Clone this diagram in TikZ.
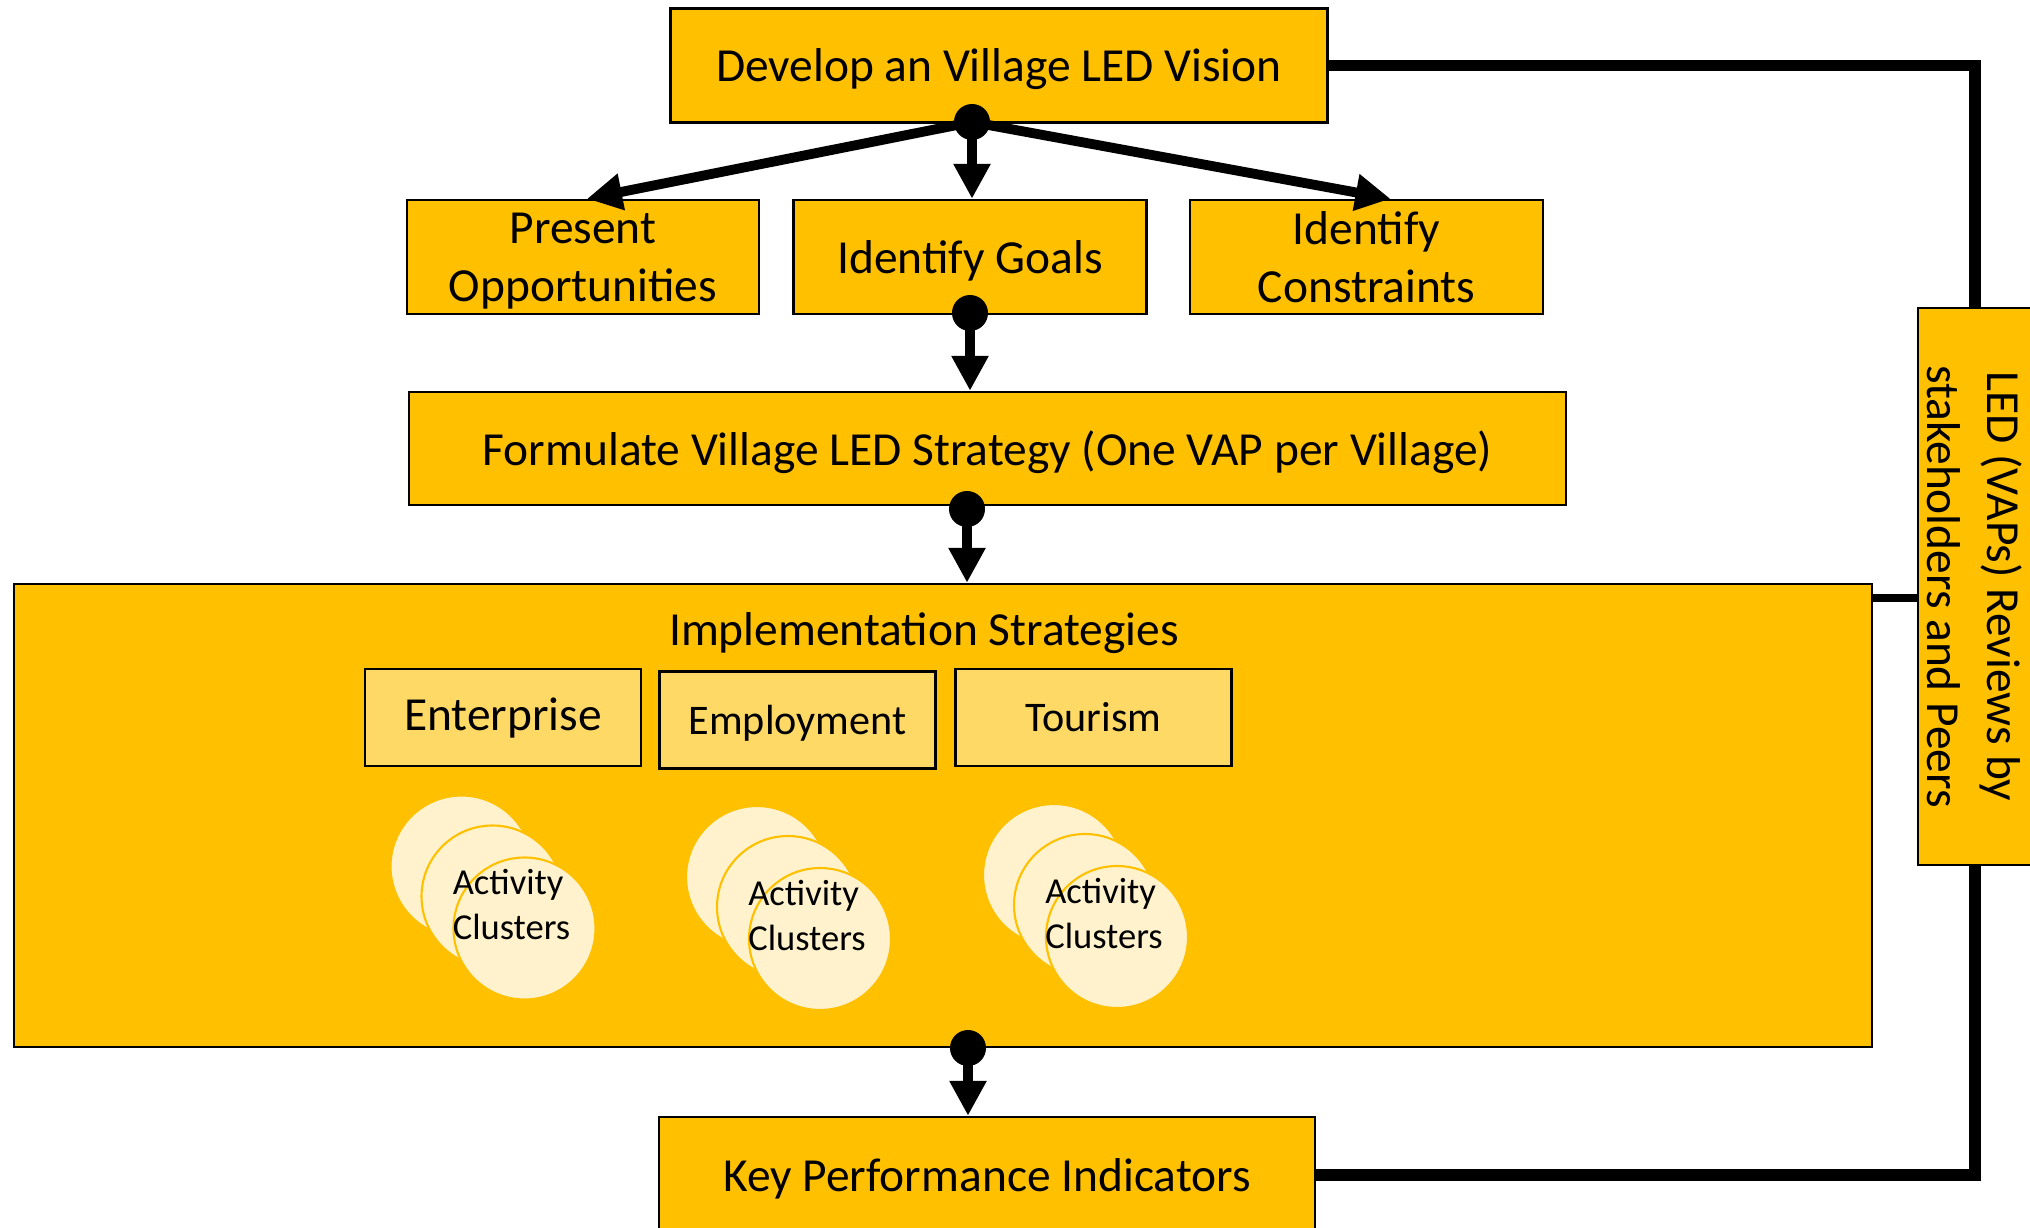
\documentclass[tikz,border=0pt]{standalone}
\usepackage{fontspec}
\setmainfont{Carlito}
\usepackage{tikz}
\usetikzlibrary{arrows.meta}

\definecolor{ledgold}{HTML}{FFC000}
\definecolor{ledlight}{HTML}{FFD966}
\definecolor{ledcream}{HTML}{FFF2CC}

\tikzset{
    mainbox/.style={draw, line width=0.7pt, fill=ledgold, inner sep=2pt, align=center, text depth=0pt, font=\fontsize{13.5}{16.5}\selectfont},
    subbox/.style={draw, line width=0.75pt, fill=ledlight, minimum width=2.76cm, minimum height=0.97cm},
    cluster/.style={circle, draw=ledgold, line width=0.6pt, fill=ledcream, inner sep=0pt, minimum size=1.42cm},
    flow/.style={line width=2.8pt, -{Triangle[length=0.35cm, width=0.35cm]}},
    loopline/.style={line width=3.2pt},
}

\begin{document}
\begin{tikzpicture}[xscale=1, yscale=1]
    \useasboundingbox (0,0) rectangle (20.3,-12.27);

    % vision and first level
    \node[mainbox, minimum width=6.57cm, minimum height=1.14cm] (vision) at (9.99,-0.655) {Develop an Village LED Vision};
    \node[mainbox, minimum width=3.52cm, minimum height=1.14cm] (present) at (5.83,-2.57) {Present\\Opportunities};
    \node[mainbox, minimum width=3.53cm, minimum height=1.14cm] (goals) at (9.70,-2.57) {Identify Goals};
    \node[mainbox, minimum width=3.53cm, minimum height=1.14cm] (constraints) at (13.665,-2.57) {Identify\\Constraints};

    % strategy
    \node[mainbox, minimum width=11.57cm, minimum height=1.13cm] (strategy) at (9.875,-4.485) {Formulate Village LED Strategy (One VAP per Village)};

    % implementation block
    \node[mainbox, minimum width=18.58cm, minimum height=4.63cm] (impl) at (9.43,-8.155) {};
    \node[text depth=0pt, font=\fontsize{13.5}{16}\selectfont] (impltitle) at (9.24,-6.29) {Implementation Strategies};
    \node[subbox, font=\fontsize{13.5}{16}\selectfont] (enterprise) at (5.03,-7.175) {Enterprise};
    \node[subbox, text depth=0pt, font=\fontsize{12}{14}\selectfont] (employment) at (7.975,-7.20) {Employment};
    \node[subbox, font=\fontsize{12}{14}\selectfont] (tourism) at (10.935,-7.175) {Tourism};

    % activity clusters, three per area
    \foreach \gx/\gy/\gname in {4.615/-8.665/ent, 7.57/-8.77/emp, 10.54/-8.75/tour} {
        \node[cluster] (\gname a) at (\gx,\gy) {};
        \node[cluster] (\gname b) at ({\gx+0.31},{\gy-0.30}) {};
        \node[cluster] (\gname c) at ({\gx+0.63},{\gy-0.62}) {};
        \node[align=left, font=\fontsize{10.4}{12.8}\selectfont] (\gname txt) at ({\gx+0.5},{\gy-0.38}) {Activity\\Clusters};
    }

    % KPIs and review box
    \node[mainbox, minimum width=6.56cm, minimum height=1.16cm] (kpi) at (9.87,-11.75) {Key Performance Indicators};
    \node[mainbox, rotate=-90, minimum width=5.57cm, minimum height=1.14cm, font=\fontsize{13.5}{17}\selectfont] (review) at (19.75,-5.865) {LED (VAPs) Reviews by\\stakeholders and Peers};

    % branch points
    \coordinate (d1) at (9.72,-1.22);
    \coordinate (d2) at (9.70,-3.13);
    \coordinate (d3) at (9.67,-5.09);
    \coordinate (d4) at (9.68,-10.48);
    \coordinate (hook) at (19.18,-5.98);

    % arrows
    \draw[flow] (d1) -- ([xshift=0.04cm]present.north);
    \draw[flow] (d1) -- (d1 |- goals.north);
    \draw[flow] (d1) -- ([xshift=0.24cm]constraints.north);
    \draw[flow] (d2) -- (d2 |- strategy.north);
    \draw[flow] (d3) -- (d3 |- impl.north);
    \draw[flow] (d4) -- (d4 |- kpi.north);
    \foreach \d in {d1,d2,d3,d4}
        \fill (\d) circle (0.18);

    % review loop
    \draw[loopline] (vision.east) -| (review.west);
    \draw[loopline] (kpi.east) -| (review.east);
    \draw[line width=2.2pt] (hook -| impl.east) -- (hook);

\end{tikzpicture}
\end{document}
